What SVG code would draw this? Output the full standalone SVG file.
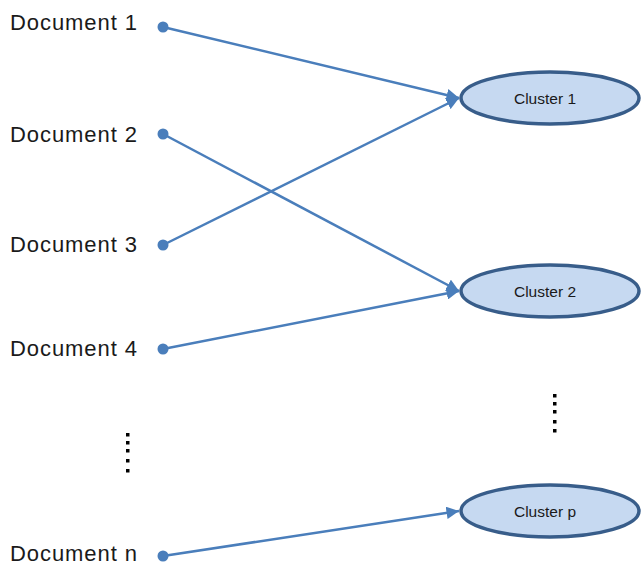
<svg xmlns="http://www.w3.org/2000/svg" width="642" height="565" viewBox="0 0 642 565">
<defs>
<style>
.doc{font-family:"Liberation Sans",Arial,sans-serif;font-size:22px;fill:#1a1a1a}
.cl{font-family:"Liberation Sans",Arial,sans-serif;font-size:15.5px;fill:#1a1a1a;text-anchor:middle}
.ell{fill:#C6D9F1;stroke:#385D8A;stroke-width:3.5}
.edge{stroke:#4A7EBB;stroke-width:2.5;fill:none;marker-end:url(#ah)}
.dot{fill:#4A7EBB}
.vd{fill:#000}
</style>
<marker id="ah" viewBox="0 0 10 10" refX="10" refY="5" markerWidth="5" markerHeight="5" orient="auto" markerUnits="strokeWidth">
<path d="M0,0 L10,5 L0,10 z" fill="#4A7EBB"/>
</marker>
</defs>
<rect width="642" height="565" fill="#fff"/>
<g id="connectors">
<line class="edge" x1="163" y1="27" x2="459" y2="98"/>
<line class="edge" x1="163" y1="245" x2="459" y2="98"/>
<line class="edge" x1="163" y1="134" x2="459" y2="291"/>
<line class="edge" x1="163" y1="349" x2="459" y2="291"/>
<line class="edge" x1="163" y1="556" x2="459" y2="511"/>
</g>
<g id="doc1"><text class="doc" x="10" y="30" textLength="127" lengthAdjust="spacing">Document 1</text><circle class="dot" cx="163" cy="27" r="5.5"/></g>
<g id="doc2"><text class="doc" x="10" y="142" textLength="127" lengthAdjust="spacing">Document 2</text><circle class="dot" cx="163" cy="134" r="5.5"/></g>
<g id="doc3"><text class="doc" x="10" y="252" textLength="127" lengthAdjust="spacing">Document 3</text><circle class="dot" cx="163" cy="245" r="5.5"/></g>
<g id="doc4"><text class="doc" x="10" y="356" textLength="127" lengthAdjust="spacing">Document 4</text><circle class="dot" cx="163" cy="349" r="5.5"/></g>
<g id="docn"><text class="doc" x="10" y="561" textLength="127" lengthAdjust="spacing">Document n</text><circle class="dot" cx="163" cy="556" r="5.5"/></g>
<g id="docdots">
<rect class="vd" x="126" y="433" width="3.5" height="3.5"/>
<rect class="vd" x="126" y="441" width="3.5" height="3.5"/>
<rect class="vd" x="126" y="449" width="3.5" height="3.5"/>
<rect class="vd" x="126" y="459" width="3.5" height="3.5"/>
<rect class="vd" x="126" y="469" width="3.5" height="3.5"/>
</g>
<g id="cluster1"><ellipse class="ell" cx="550" cy="98" rx="89" ry="26"/><text class="cl" x="545" y="104">Cluster 1</text></g>
<g id="cluster2"><ellipse class="ell" cx="550" cy="291" rx="89" ry="26"/><text class="cl" x="545" y="297">Cluster 2</text></g>
<g id="clusterp"><ellipse class="ell" cx="550" cy="511" rx="89" ry="26"/><text class="cl" x="545" y="517">Cluster p</text></g>
<g id="clusterdots">
<rect class="vd" x="553" y="394" width="3.5" height="3.5"/>
<rect class="vd" x="553" y="402" width="3.5" height="3.5"/>
<rect class="vd" x="553" y="410" width="3.5" height="3.5"/>
<rect class="vd" x="553" y="420" width="3.5" height="3.5"/>
<rect class="vd" x="553" y="429" width="3.5" height="3.5"/>
</g>
</svg>
